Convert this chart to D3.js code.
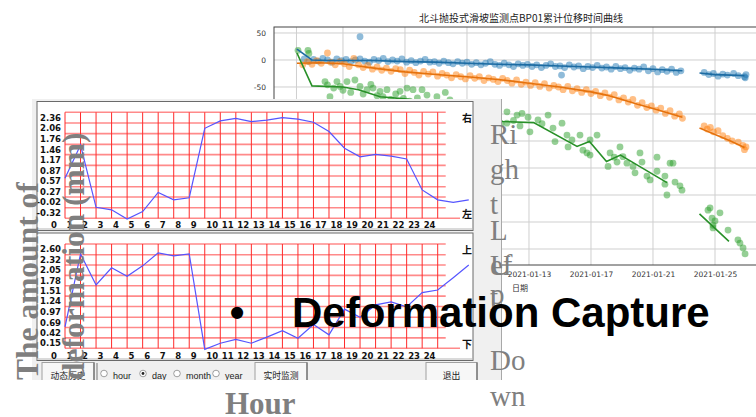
<!DOCTYPE html>
<html><head><meta charset="utf-8">
<script src="https://cdn.jsdelivr.net/npm/d3@7"></script>
<style>body{margin:0;background:#fff;overflow:hidden}svg{display:block}</style>
</head><body>
<svg id="c" width="756" height="417"></svg>
<script>
// ---------- Right chart (matplotlib figure) data ----------
const chartTitle = "北斗抛投式滑坡监测点BP01累计位移时间曲线";
const xLabel = "日期";
const dateTicks = ["2020-12-29","2021-01-01","2021-01-05","2021-01-09","2021-01-13","2021-01-17","2021-01-21","2021-01-25"];
const yTicks = [50,0,-50,-100,-150,-200,-250,-300,-350];
// points: [days after 2021-01-01, displacement]
const blueDots = [[-2.5,2],[-2.2,-3],[-1.9,1],[-1.6,-2],[-1.3,3],[-1.0,0],[-0.7,-4],[-0.4,2],[-0.1,-1],[0.2,1],[0.5,-3],[0.8,0],[1.1,43],[1.1,2],[1.4,-2],[1.7,-4],[2.0,1],[2.3,-1],[2.6,3],[2.9,-3],[3.2,0],[3.5,-2],[3.8,2],[4.1,-4],[4.4,-1],[4.7,-5],[5.0,-2],[5.3,1],[5.6,-4],[5.9,-3],[6.2,-6],[6.5,-2],[6.8,-5],[7.1,-7],[7.4,-3],[7.7,-6],[8.0,-4],[8.3,-8],[8.6,-5],[8.9,-9],[9.2,-6],[9.5,-3],[9.8,-8],[10.1,-10],[10.4,-6],[10.7,-9],[11.0,-12],[11.3,-7],[11.6,-10],[11.9,-8],[12.2,-12],[12.5,-9],[12.8,-14],[13.1,-10],[13.4,-7],[13.7,-12],[14.0,-11],[14.1,-28],[14.3,-14],[14.6,-9],[14.9,-13],[15.2,-11],[15.5,-16],[15.8,-12],[16.1,-14],[16.4,-10],[16.7,-15],[17.0,-13],[17.3,-17],[17.6,-12],[17.9,-16],[18.2,-14],[18.5,-19],[18.8,-15],[19.1,-17],[19.4,-13],[19.7,-20],[20.0,-16],[20.3,-22],[20.6,-18],[20.9,-21],[21.2,-17],[21.5,-23],[21.8,-20],
  [23.3,-23],[23.6,-27],[23.9,-25],[24.2,-30],[24.5,-26],[24.8,-28],[25.2,-25],[25.5,-29],[25.9,-31],[26.0,-27],[25.95,-33]];
const orangeDots = [[-2.6,-9],[-2.3,-3],[-2.0,-8],[-1.7,-1],[-1.4,-6],[-1.0,13],[-0.8,-4],[-0.5,-9],[-0.2,-3],[0.1,-7],[0.4,-12],[0.7,3],[1.0,-9],[1.3,-14],[1.6,-10],[1.9,-17],[2.2,-13],[2.5,-19],[2.8,-15],[3.1,-21],[3.4,-16],[3.7,-18],[4.0,-25],[4.3,-19],[4.6,-23],[4.9,-28],[5.2,-21],[5.5,-26],[5.8,-22],[6.1,-30],[6.4,-25],[6.7,-28],[7.0,-33],[7.3,-27],[7.6,-31],[7.9,-35],[8.2,-29],[8.5,-34],[8.8,-31],[9.1,-38],[9.4,-33],[9.7,-36],[10.0,-40],[10.3,-34],[10.6,-38],[10.9,-43],[11.2,-37],[11.5,-45],[11.8,-41],[12.1,-47],[12.4,-42],[12.7,-49],[13.0,-44],[13.3,-52],[13.6,-47],[13.9,-50],[14.2,-55],[14.5,-49],[14.8,-57],[15.1,-53],[15.4,-60],[15.7,-55],[16.0,-62],[16.3,-58],[16.6,-66],[16.9,-61],[17.2,-69],[17.5,-64],[17.8,-74],[18.1,-70],[18.4,-78],[18.7,-73],[19.0,-84],[19.3,-79],[19.6,-88],[19.9,-85],[20.2,-93],[20.5,-89],[20.8,-99],[21.1,-94],[21.4,-104],[21.7,-100],[21.9,-108],
  [23.3,-122],[23.5,-128],[23.7,-125],[23.9,-133],[24.2,-131],[24.5,-140],[24.8,-145],[25.1,-150],[25.5,-152],[25.8,-158],[25.9,-166],[26.0,-161]];
const greenDots = [[-2.9,18],[-2.26,18],[-2.2,12],[-1.16,-40],[-1.0,-46],[-0.84,-68],[-0.6,-52],[-0.39,-40],[-0.19,-49],[0.0,-56],[0.26,-40],[0.5,-60],[0.77,-37],[1.1,-49],[1.3,-63],[1.55,-55],[1.8,-45],[1.94,-52],[2.2,-66],[2.39,-58],[2.58,-68],[2.84,-55],[3.1,-73],[3.4,-63],[3.68,-58],[3.9,-71],[4.13,-52],[4.3,-76],[4.52,-55],[4.8,-70],[5.1,-55],[5.42,-65],[5.7,-79],[6.06,-68],[6.3,-86],[6.6,-60],[6.9,-74],[7.2,-89],[7.5,-81],[7.8,-96],[8.1,-85],[8.4,-101],[8.7,-92],[9.0,-106],[9.3,-98],[9.6,-111],[9.9,-103],[10.2,-118],
  [10.58,-96],[11.23,-102],[11.55,-99],[10.58,-117],[11.0,-112],[11.42,-122],[12.06,-133],[11.94,-106],[12.58,-111],[12.84,-118],[13.23,-102],[13.55,-126],[14.13,-117],[13.68,-151],[14.45,-139],[14.77,-148],[14.52,-161],[15.29,-139],[15.48,-167],[15.94,-148],[16.39,-139],[15.74,-172],[15.94,-176],[17.10,-197],[17.23,-172],[17.5,-180],[17.68,-189],[17.87,-161],[18.06,-179],[18.32,-191],[18.71,-197],[19.16,-172],[19.29,-189],[18.84,-209],[19.61,-215],[19.81,-222],[20.26,-206],[20.26,-180],[20.77,-215],[20.77,-230],[21.10,-191],[21.29,-191],[20.90,-250],[21.42,-226],[21.74,-233],[21.87,-241],
  [23.55,-278],[23.68,-274],[24.32,-283],[23.81,-293],[23.87,-306],[24.84,-315],[25.48,-333],[25.61,-339],[25.81,-348],[25.94,-359],[23.87,-311],[24.0,-298]];
const blueLine = [[-2.97,20],[-2.0,0],[-1,-1],[0,-1],[2,-1],[4,-3],[6,-4],[8,-6],[10,-8],[12,-9],[14,-11],[16,-13],[18,-15],[20,-17],[21.9,-20],null,[23,-24],[24,-27],[25,-28],[25.9,-29]];
const orangeLine = [[-2.97,-6],[-1.5,-5],[0,-7],[1,-11],[2,-15],[4,-22],[6,-27],[8,-31],[10,-36],[12,-43],[14,-50],[16,-59],[17,-65],[18,-73],[19,-82],[20,-90],[21.9,-106],null,[23,-126],[24,-138],[25,-150],[25.9,-162]];
const greenLine = [[-2.97,13],[-2.0,-48],[0,-50],[1,-55],[2.4,-68],[4,-72],[6,-80],[8,-95],[10.3,-114],[12.3,-116],[15.1,-160],[15.9,-151],[17.0,-188],[17.9,-176],[20.9,-227],null,[23,-285],[24.9,-336]];

// ---------- Left software panels data ----------
const hourLabels = d3.range(0,25).map(String);
const p1Labels = [2.36,2.06,1.76,1.46,1.17,0.87,0.57,0.27,-0.02,-0.32];
const p1Values = [0.51,1.44,-0.31,-0.38,-0.64,-0.43,0.11,-0.10,-0.04,1.91,2.12,2.19,2.10,2.14,2.21,2.17,2.08,1.82,1.35,1.11,1.18,1.13,1.05,0.18,-0.10,-0.17,-0.10];
const p2Labels = [2.60,2.32,2.05,1.78,1.51,1.24,0.97,0.69,0.42,0.15];
const p2Values = [0.44,2.34,1.53,1.98,1.76,2.03,2.37,2.29,2.34,-0.15,0.01,0.11,0.01,0.17,0.34,0.14,0.50,0.23,0.90,0.69,1.01,1.09,0.96,1.33,1.40,1.72,2.05];
const p1Marks = ["右","左"], p2Marks = ["上","下"];
const radioOptions = ["hour","day","month","year"];
const selectedOption = "day";

const svg = d3.select("#c");
svg.append("rect").attr("width",756).attr("height",417).attr("fill","#fff");

// ===== Right chart =====
const base = Date.UTC(2021,0,1), DAY = 864e5;
const T = d => new Date(base + d*DAY);
const x = d3.scaleUtc().domain([T(-4.45), T(27.29)]).range([274,766]);
const y = d3.scaleLinear().domain([-379.6, 61.1]).range([265,27]);
const chart = svg.append("g");
chart.append("clipPath").attr("id","plotclip").append("rect").attr("x",274).attr("y",27).attr("width",492).attr("height",238);
const grid = chart.append("g").attr("stroke","#cfcfcf").attr("stroke-width",1);
grid.selectAll("line.v").data(dateTicks).join("line").attr("class","v")
  .attr("x1",d=>x(new Date(d))).attr("x2",d=>x(new Date(d))).attr("y1",27).attr("y2",265);
grid.selectAll("line.h").data(yTicks).join("line").attr("class","h")
  .attr("x1",274).attr("x2",766).attr("y1",d=>y(d)).attr("y2",d=>y(d));

const plot = chart.append("g").attr("clip-path","url(#plotclip)");
const series = [
  {dots: blueDots, line: blueLine, color: "#1f77b4"},
  {dots: orangeDots, line: orangeLine, color: "#ff7f0e"},
  {dots: greenDots, line: greenLine, color: "#2ca02c"}
];
const lineGen = d3.line().defined(p => p !== null).x(p => x(T(p[0]))).y(p => y(p[1]));
series.forEach(s => {
  plot.append("g").selectAll("circle").data(s.dots).join("circle")
    .attr("cx", p => x(T(p[0]))).attr("cy", p => y(p[1])).attr("r", 3.4)
    .attr("fill", s.color).attr("fill-opacity", 0.5);
});
series.forEach(s => {
  plot.append("path").datum(s.line).attr("d", lineGen).attr("fill","none")
    .attr("stroke-width", 1.6)
    .attr("stroke", d3.color(s.color).darker(0.3));
});
chart.append("rect").attr("x",274).attr("y",27).attr("width",492).attr("height",238)
  .attr("fill","none").attr("stroke","#444").attr("stroke-width",1);

const xa = chart.append("g").attr("transform","translate(0,265)")
  .call(d3.axisBottom(x).tickValues(dateTicks.map(d=>new Date(d))).tickFormat(d3.utcFormat("%Y-%m-%d")).tickSize(0).tickPadding(7));
const ya = chart.append("g").attr("transform","translate(274,0)")
  .call(d3.axisLeft(y).tickValues(yTicks).tickFormat(d=>String(d)).tickSize(0).tickPadding(8));
[xa, ya].forEach(a => {
  a.select(".domain").remove();
  a.selectAll("text").attr("font-family","DejaVu Sans").attr("font-size",7.5).attr("fill","#333");
});
chart.append("text").attr("x",521).attr("y",22).attr("text-anchor","middle")
  .attr("font-family","Noto Sans CJK SC").attr("font-size",10).attr("fill","#222").text(chartTitle);
chart.append("text").attr("x",520).attr("y",291).attr("text-anchor","middle")
  .attr("font-family","Noto Sans CJK SC").attr("font-size",8).attr("fill","#333").text(xLabel);

// ===== Left software window =====
const win = svg.append("g");
win.append("rect").attr("x",32).attr("y",99).attr("width",470).attr("height",281).attr("fill","#f0f0f0");
win.append("line").attr("x1",501.5).attr("x2",501.5).attr("y1",99).attr("y2",380).attr("stroke","#a8a8a8");

const hx = d3.scaleLinear().domain([0,24]).range([65, 437.7]);

function drawPanel(box, gridTop, gridBottom, labels, values, marks, xLabelY) {
  const g = win.append("g");
  g.append("rect").attr("x",37).attr("y",box[0]).attr("width",436).attr("height",box[1]-box[0])
    .attr("fill","#fff").attr("stroke","#6a6a6a").attr("stroke-width",1);
  g.append("line").attr("x1",37).attr("x2",473).attr("y1",box[1]-1.5).attr("y2",box[1]-1.5).attr("stroke","#b5b5b5");
  const step = (labels[0]-labels[labels.length-1])/(labels.length-1);
  const bottomVal = labels[labels.length-1]-step;
  const ys = d3.scaleLinear().domain([bottomVal, labels[0]]).range([gridBottom, gridTop]);
  const hVals = labels.concat([bottomVal]);
  g.append("g").selectAll("line").data(hVals).join("line")
    .attr("x1",65).attr("x2",(d,i)=> i===hVals.length-1 ? 460 : 445.7)
    .attr("y1",d=>ys(d)).attr("y2",d=>ys(d))
    .attr("stroke","#ff8a8a").attr("stroke-width",1.6);
  g.append("g").selectAll("line").data(d3.range(25)).join("line")
    .attr("x1",d=>hx(d)).attr("x2",d=>hx(d)).attr("y1",gridTop).attr("y2",gridBottom)
    .attr("stroke","#ff2a2a").attr("stroke-width",1);
  const half = (ys(labels[1]) - ys(labels[0]))/2;
  g.append("g").selectAll("text").data(labels).join("text")
    .attr("x",61).attr("y",d=>ys(d)+half+3).attr("text-anchor","end")
    .attr("font-family","DejaVu Sans").attr("font-weight","bold").attr("font-size",8.5).attr("fill","#111")
    .text(d=>d.toFixed(2));
  g.append("g").selectAll("text").data(hourLabels).join("text")
    .attr("x",d=> +d===0 ? 54 : hx(+d-1)+1.5).attr("y",xLabelY)
    .attr("text-anchor",d=> +d===0 ? "middle" : "start")
    .attr("font-family","DejaVu Sans").attr("font-weight","bold").attr("font-size",8.5).attr("fill","#111")
    .text(d=>d);
  g.append("path").datum(values)
    .attr("d", d3.line().x((v,i)=>hx(i)).y(v=>ys(v)))
    .attr("fill","none").attr("stroke","#5555ff").attr("stroke-width",1.2);
  g.append("text").attr("x",467).attr("y",gridTop+10).attr("text-anchor","middle")
    .attr("font-family","Noto Sans CJK SC").attr("font-weight","bold").attr("font-size",10).attr("fill","#111").text(marks[0]);
  g.append("text").attr("x",467).attr("y",gridBottom-0.5).attr("text-anchor","middle")
    .attr("font-family","Noto Sans CJK SC").attr("font-weight","bold").attr("font-size",10).attr("fill","#111").text(marks[1]);
}
drawPanel([101.5,230.5], 112.3, 218.3, p1Labels, p1Values, p1Marks, 227.5);
drawPanel([233,360.5], 244, 348.3, p2Labels, p2Values, p2Marks, 358.5);

// controls row
const ctrl = win.append("g").attr("font-size",9).attr("fill","#222");
function button(x0, x1, label) {
  ctrl.append("rect").attr("x",x0).attr("y",362.5).attr("width",x1-x0).attr("height",20)
    .attr("fill","#f7f7f7").attr("stroke","#a0a0a0");
  ctrl.append("line").attr("x1",x1).attr("x2",x1).attr("y1",362.5).attr("y2",380).attr("stroke","#555");
  ctrl.append("text").attr("x",(x0+x1)/2).attr("y",379).attr("text-anchor","middle")
    .attr("font-family","Noto Sans CJK SC").attr("font-size",8.8).attr("fill","#222").text(label);
}
button(42, 94, "动态历史");
button(255, 307, "实时监测");
button(426, 477, "退出");
ctrl.append("line").attr("x1",97).attr("x2",97).attr("y1",363).attr("y2",380).attr("stroke","#777");
const radioX = [104, 143, 177, 216];
radioOptions.forEach((o,i) => {
  ctrl.append("circle").attr("cx",radioX[i]).attr("cy",373.5).attr("r",3.3)
    .attr("fill","#fff").attr("stroke","#888").attr("stroke-width",0.8);
  if (o === selectedOption) ctrl.append("circle").attr("cx",radioX[i]).attr("cy",373.5).attr("r",1.4).attr("fill","#222");
  ctrl.append("text").attr("x",radioX[i]+9).attr("y",378.5)
    .attr("font-family","Liberation Sans").attr("font-size",9).attr("fill","#222").text(o);
});
// clip lower edge of window
svg.append("rect").attr("x",0).attr("y",380).attr("width",510).attr("height",37).attr("fill","#fff");

// ===== Overlay texts =====
const grey = "#7f7f7f";
svg.append("text").attr("transform","translate(38,380) rotate(-90)")
  .attr("font-family","Liberation Serif").attr("font-weight","bold").attr("font-size",31.5).attr("fill",grey)
  .text("The amount of");
svg.append("text").attr("transform","translate(84,380) rotate(-90)")
  .attr("font-family","Liberation Serif").attr("font-weight","bold").attr("font-size",31.5).attr("fill",grey)
  .text("deformation (mm)");
svg.append("text").attr("x",225).attr("y",414)
  .attr("font-family","Liberation Serif").attr("font-weight","bold").attr("font-size",31).attr("fill",grey)
  .text("Hour");
const sideWords = [["Ri",144],["gh",179],["t",214],["L",240],["ef",275],["U",275],["t",307],["p",304],["Do",370],["wn",406]];
svg.append("g").selectAll("text").data(sideWords).join("text")
  .attr("x",490).attr("y",d=>d[1])
  .attr("font-family","Liberation Serif").attr("font-size",29).attr("fill",grey)
  .text(d=>d[0]);
svg.append("text").attr("x",237).attr("y",327).attr("text-anchor","middle")
  .attr("font-family","Liberation Sans").attr("font-weight","bold").attr("font-size",42).attr("fill","#000").text("•");
svg.append("text").attr("x",292).attr("y",327)
  .attr("font-family","Liberation Sans").attr("font-weight","bold").attr("font-size",42).attr("fill","#000")
  .text("Deformation Capture");
</script>
</body></html>
